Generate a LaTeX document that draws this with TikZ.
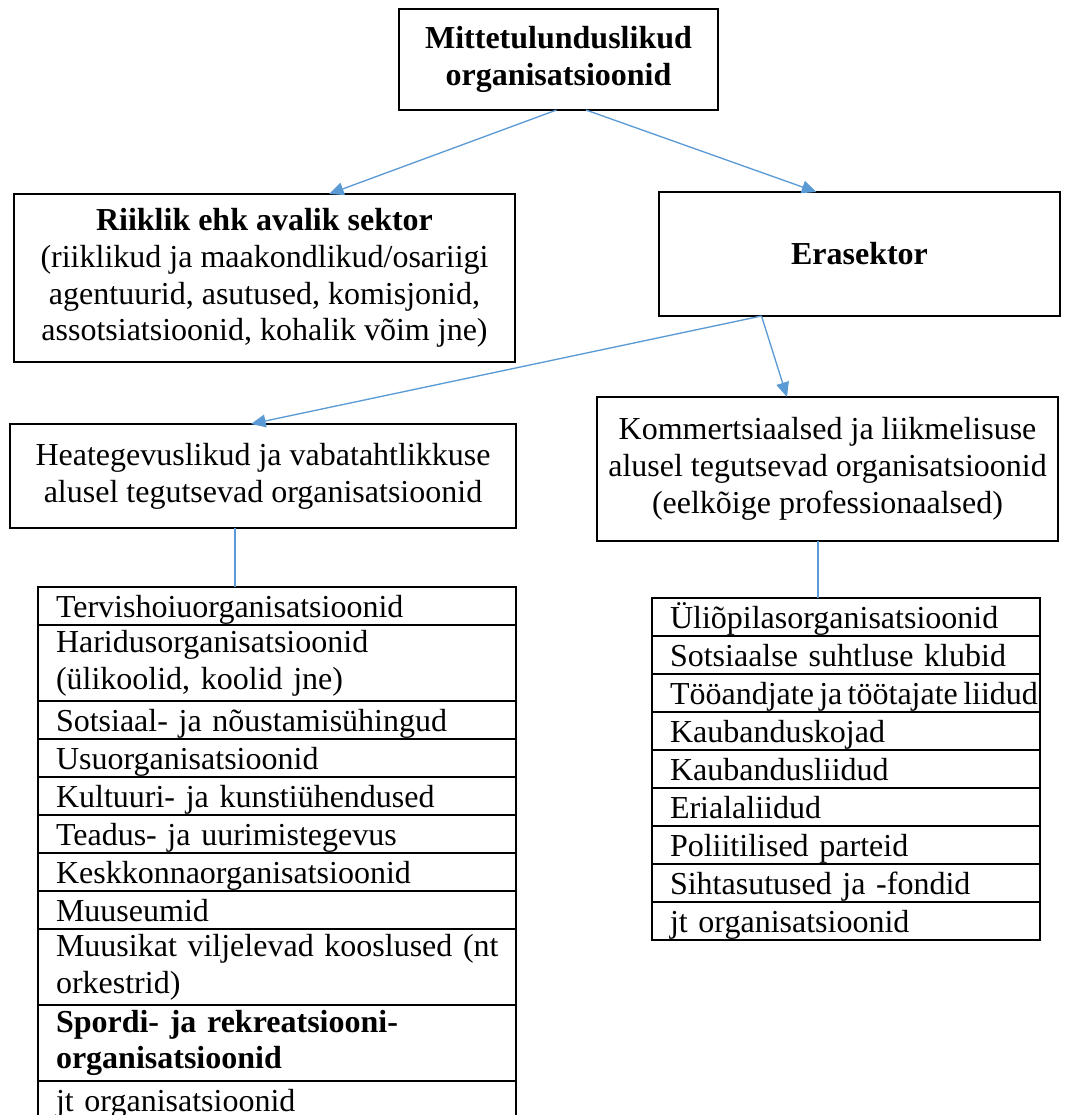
\documentclass[tikz,border=0pt]{standalone}
\usepackage{fontspec}
\setmainfont{Liberation Serif}
\usetikzlibrary{positioning,arrows.meta,calc}
\definecolor{linkblue}{RGB}{91,155,213}
\newcommand\orgfont{\fontsize{12pt}{13.8pt}\selectfont}

\begin{document}
\begin{tikzpicture}[
  x=0.375pt, y=-0.375pt,
  font=\orgfont,
  box/.style ={draw, line width=0.6pt, align=center, inner sep=2pt, outer sep=0pt},
  item/.style={draw, line width=0.6pt, align=left, inner xsep=6.75pt,
               inner ysep=0pt, outer sep=0pt},
  one/.style ={text height=11.25pt, text depth=3pt},
  two/.style ={minimum height=28.5pt},
  lcol/.style={text width=165.75pt},
  rcol/.style={text width=132pt},
  arr/.style ={-{Triangle[length=5.5pt,width=4.8pt]}, draw=linkblue, line width=0.5pt},
  lnk/.style ={draw=linkblue, line width=0.5pt},
]
\useasboundingbox (0,0) rectangle (1090,1115);

\node[box, font=\orgfont\bfseries, minimum width=119.6pt, minimum height=37.9pt]
  (top) at (558.5,59.5) {Mittetulunduslikud\\organisatsioonid};

\node[box, minimum width=187.9pt, minimum height=63pt] (riik) at (264.5,278) {%
  \textbf{Riiklik ehk avalik sektor}\\
  (riiklikud ja maakondlikud/osariigi\\
  agentuurid, asutused, komisjonid,\\
  assotsiatsioonid, kohalik võim jne)};
\node[box, font=\orgfont\bfseries, minimum width=150.4pt, minimum height=46.5pt]
  (era) at (859.5,254) {Erasektor};

\node[box, minimum width=189.75pt, minimum height=39pt] (heat) at (263,476)
  {Heategevuslikud ja vabatahtlikkuse\\alusel tegutsevad organisatsioonid};
\node[box, minimum width=172.9pt, minimum height=54pt] (komm) at (827.5,469)
  {Kommertsiaalsed ja liikmelisuse\\alusel tegutsevad organisatsioonid\\(eelkõige professionaalsed)};

% vasak loend
\node[item, lcol, one, anchor=north west] (l1) at (38,587) {Tervishoiuorganisatsioonid};
\node[item, lcol, two, below=0pt of l1] (l2) {Haridusorganisatsioonid\\(ülikoolid, koolid jne)};
\node[item, lcol, one, below=0pt of l2] (l3) {Sotsiaal- ja nõustamisühingud};
\node[item, lcol, one, below=0pt of l3] (l4) {Usuorganisatsioonid};
\node[item, lcol, one, below=0pt of l4] (l5) {Kultuuri- ja kunstiühendused};
\node[item, lcol, one, below=0pt of l5] (l6) {Teadus- ja uurimistegevus};
\node[item, lcol, one, below=0pt of l6] (l7) {Keskkonnaorganisatsioonid};
\node[item, lcol, one, below=0pt of l7] (l8) {Muuseumid};
\node[item, lcol, two, below=0pt of l8] (l9)
  {\mbox{Muusikat viljelevad kooslused (nt}\\orkestrid)};
\node[item, lcol, two, font=\orgfont\bfseries, below=0pt of l9] (l10)
  {Spordi- ja rekreatsiooni-\\organisatsioonid};
\node[item, lcol, one, below=0pt of l10] (l11) {jt organisatsioonid};

% parem loend
\node[item, rcol, one, anchor=north west] (r1) at (652,598) {Üliõpilasorganisatsioonid};
\node[item, rcol, one, below=0pt of r1] (r2) {Sotsiaalse suhtluse klubid};
\node[item, rcol, one, below=0pt of r2] (r3)
  {\spaceskip=2pt\relax\mbox{Tööandjate ja töötajate liidud}};
\node[item, rcol, one, below=0pt of r3] (r4) {Kaubanduskojad};
\node[item, rcol, one, below=0pt of r4] (r5) {Kaubandusliidud};
\node[item, rcol, one, below=0pt of r5] (r6) {Erialaliidud};
\node[item, rcol, one, below=0pt of r6] (r7) {Poliitilised parteid};
\node[item, rcol, one, below=0pt of r7] (r8) {Sihtasutused ja -fondid};
\node[item, rcol, one, below=0pt of r8] (r9) {jt organisatsioonid};

\coordinate (es) at ($(era.south)+(-98,0)$);
\coordinate (hs) at ($(heat.south)+(-28,0)$);
\coordinate (ks) at ($(komm.south)+(-9.5,0)$);

\draw[arr] ($(top.south)+(-2,0)$) -- ($(riik.north)+(64.5,0)$);
\draw[arr] ($(top.south)+(27.5,0)$) -- ($(era.north)+(-43,0)$);
\draw[arr] (es) -- ($(heat.north)+(-12,0)$);
\draw[arr] (es) -- ($(komm.north)+(-40.5,0)$);
\draw[lnk] (hs) -- (hs |- l1.north);
\draw[lnk] (ks) -- (ks |- r1.north);

\end{tikzpicture}
\end{document}
